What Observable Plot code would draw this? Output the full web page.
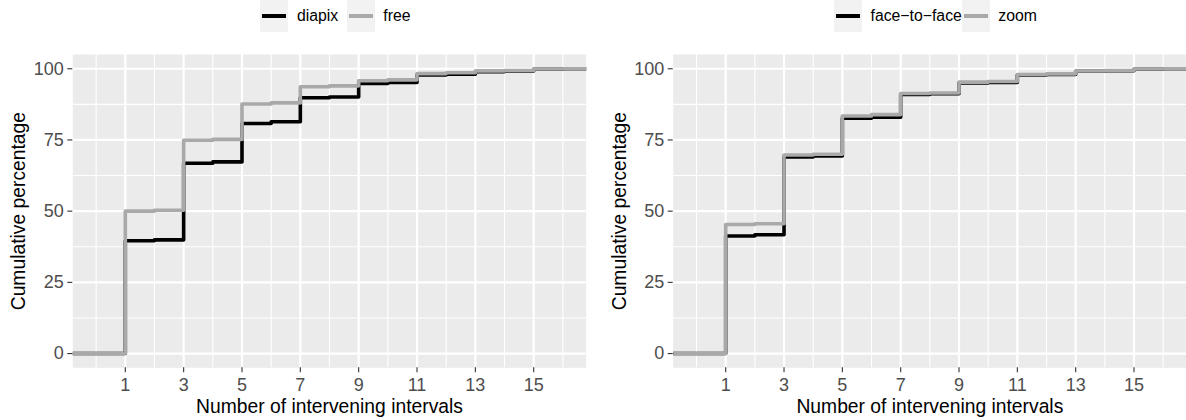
<!DOCTYPE html>
<html><head><meta charset="utf-8">
<script src="https://cdn.jsdelivr.net/npm/d3@7"></script>
<script src="https://cdn.jsdelivr.net/npm/@observablehq/plot@0.6"></script>
<style>
body{margin:0;background:#fff;font-family:"Liberation Sans",Arial,Helvetica,sans-serif;}
#wrap{display:flex;width:1186px;height:420px;overflow:hidden}
.col{width:593px;position:relative}
.legend{height:36px;display:flex;align-items:flex-start;font-size:15.8px;color:#000;box-sizing:border-box}
.key{width:28px;height:32px;background:#F2F2F2;position:relative;flex:none}
.key span{position:absolute;left:2px;right:2px;top:14.25px;height:3.5px}
.lab{margin-left:8.5px;line-height:32px;white-space:nowrap}
svg{display:block}
</style></head><body><div id="wrap"></div>
<script>
// ---- data ----
const intervals = [1,2,3,4,5,6,7,8,9,10,11,12,13,14,15,16];
const xTicks = [1,3,5,7,9,11,13,15];
const xMinor = [0,2,4,6,8,10,12,14,16];
const yTicks = [0,25,50,75,100];
const yMinor = [12.5,37.5,62.5,87.5];
const xDomain = [-0.8, 16.8];
const yDomain = [-5, 105];

const leftSeries = ["diapix", "free"];
const diapix = [39.6,39.9,66.8,67.3,80.8,81.4,89.8,90.1,94.8,95.2,97.8,98.1,99.0,99.2,99.8,100];
const free   = [50.0,50.3,74.9,75.2,87.6,88.0,93.7,94.0,95.8,96.1,98.3,98.6,99.2,99.4,99.9,100];

const rightSeries = ["face−to−face", "zoom"];
const faceToFace = [41.3,41.7,69.0,69.4,82.6,83.0,91.0,91.2,95.0,95.2,97.8,98.0,99.1,99.3,99.8,100];
const zoomVals   = [45.3,45.6,69.7,70.0,83.4,83.9,91.3,91.5,95.3,95.5,98.0,98.2,99.2,99.4,99.9,100];

const colors = ["#000000", "#A9A9A9"];
const xTitle = "Number of intervening intervals";
const yTitle = "Cumulative percentage";

// ECDF-like table, padded to the panel edges like stat_ecdf's -Inf/Inf
function ecdfTable(name, vals) {
  return [{series: name, x: xDomain[0], y: 0}]
    .concat(intervals.map((x, i) => ({series: name, x, y: vals[i]})))
    .concat([{series: name, x: xDomain[1], y: vals[vals.length - 1]}]);
}

function legend(names, padLeft, gapAfter) {
  const d = document.createElement("div");
  d.className = "legend";
  d.style.paddingLeft = padLeft + "px";
  names.forEach((n, i) => {
    const k = document.createElement("div"); k.className = "key";
    const s = document.createElement("span"); s.style.background = colors[i];
    k.appendChild(s); d.appendChild(k);
    const l = document.createElement("div"); l.className = "lab"; l.textContent = n;
    l.style.marginRight = gapAfter + "px";
    d.appendChild(l);
  });
  return d;
}

function panel(names, series, marginLeft, marginRight) {
  const table = names.flatMap((n, i) => ecdfTable(n, series[i]));
  return Plot.plot({
    width: 593, height: 384,
    marginTop: 18, marginBottom: 52.7, marginLeft, marginRight,
    style: {fontFamily: '"Liberation Sans", Arial, Helvetica, sans-serif', fontSize: "18px", background: "transparent", overflow: "visible"},
    x: {domain: xDomain, label: null},
    y: {domain: yDomain, label: null},
    color: {domain: names, range: colors},
    marks: [
      Plot.frame({fill: "#EBEBEB", stroke: null}),
      Plot.gridX(xMinor, {stroke: "white", strokeOpacity: 1, strokeWidth: 1.1}),
      Plot.gridY(yMinor, {stroke: "white", strokeOpacity: 1, strokeWidth: 1.1}),
      Plot.gridX(xTicks, {stroke: "white", strokeOpacity: 1, strokeWidth: 2.2}),
      Plot.gridY(yTicks, {stroke: "white", strokeOpacity: 1, strokeWidth: 2.2}),
      Plot.line(table, {x: "x", y: "y", z: "series", stroke: "series", curve: "step-after",
        strokeWidth: 3.6, strokeLinecap: "butt", strokeLinejoin: "round"}),
      Plot.axisX(xTicks, {tickSize: 5, tickPadding: 5, stroke: "#333333", strokeWidth: 1.1, fill: "#4D4D4D", label: null, tickFormat: d => d}),
      Plot.axisY(yTicks, {tickSize: 5, tickPadding: 4, stroke: "#333333", strokeWidth: 1.1, fill: "#4D4D4D", label: null, tickFormat: d => d}),
      Plot.text([xTitle], {frameAnchor: "bottom", dy: 45, lineAnchor: "bottom", textAnchor: "middle", fill: "black", fontSize: 19.3}),
      Plot.text([yTitle], {frameAnchor: "left", dx: -53.8, rotate: -90, lineAnchor: "middle", textAnchor: "middle", fill: "black", fontSize: 19.3})
    ]
  });
}

const wrap = document.getElementById("wrap");
const c1 = document.createElement("div"); c1.className = "col";
c1.appendChild(legend(leftSeries, 260.4, 8.7));
c1.appendChild(panel(leftSeries, [diapix, free], 72.3, 7.3));
const c2 = document.createElement("div"); c2.className = "col";
c2.appendChild(legend(rightSeries, 241, 0));
c2.appendChild(panel(rightSeries, [faceToFace, zoomVals], 79.7, 0));
wrap.appendChild(c1); wrap.appendChild(c2);
</script></body></html>
